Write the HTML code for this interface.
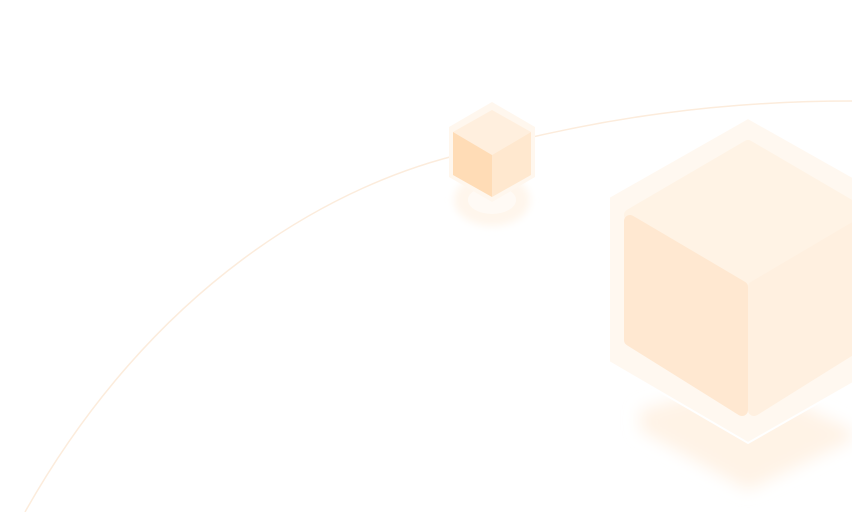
<!DOCTYPE html>
<html><head><meta charset="utf-8"><style>
html,body{margin:0;padding:0;background:#fff;width:852px;height:512px;overflow:hidden}
</style></head><body>
<svg width="852" height="512" viewBox="0 0 852 512" xmlns="http://www.w3.org/2000/svg">
<defs>
<filter id="b" x="-50%" y="-50%" width="200%" height="200%"><feGaussianBlur stdDeviation="8"/></filter>
<filter id="b2" x="-50%" y="-50%" width="200%" height="200%"><feGaussianBlur stdDeviation="4"/></filter>
</defs>
<path d="M25 512 C 150 290, 330 180, 480 150 C 600 118, 720 101, 852 101" fill="none" stroke="#fcecdc" stroke-width="1.5"/>
<ellipse cx="492" cy="200" rx="38" ry="26" fill="#fff6ec" filter="url(#b2)"/>
<ellipse cx="492" cy="200" rx="24" ry="14" fill="#fffaf5" />
<polygon points="492,102 535,127 535,177 492,202 449,177 449,127" fill="#fff7ee"/>
<polygon points="492,110 531,132 492,155 453,132" fill="#ffefde"/>
<polygon points="453,132 492,155 492,197 453,175" fill="#ffdcb6"/>
<polygon points="531,132 492,155 492,197 531,175" fill="#ffe8cf"/>
<polygon points="748,380 852,430 852,440 748,490 640,430 640,410" fill="#fff3e6" filter="url(#b)"/>
<polygon points="748,118 890,198 890,362 748,443 609,362 609,197" fill="#fff8f0" stroke="#fff" stroke-width="2"/>
<polygon points="748,146 866,215 748,280 630,215" fill="#fff3e5" stroke="#fff3e5" stroke-width="12" stroke-linejoin="round"/>
<polygon points="630,221 742,287 742,410 630,340" fill="#ffe8d1" stroke="#ffe8d1" stroke-width="12" stroke-linejoin="round"/>
<polygon points="866,221 754,287 754,410 866,340" fill="#fff0e0" stroke="#fff0e0" stroke-width="12" stroke-linejoin="round"/>
</svg>
</body></html>
